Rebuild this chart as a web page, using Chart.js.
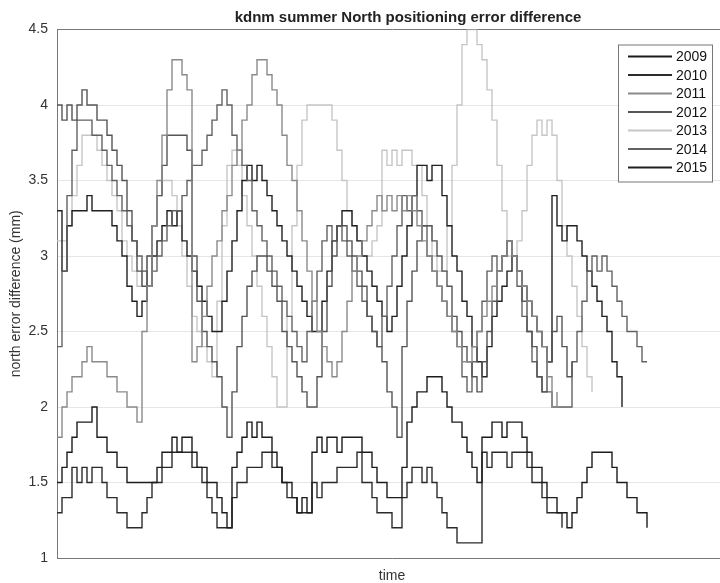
<!DOCTYPE html>
<html>
<head>
<meta charset="utf-8">
<script src="https://cdn.jsdelivr.net/npm/chart.js@4.4.1/dist/chart.umd.min.js"></script>
<style>
  html, body { margin: 0; padding: 0; background: #fff; overflow: hidden; }
  #wrap { position: relative; width: 732px; height: 583px; }
</style>
</head>
<body>
<div id="wrap"><canvas id="chart"></canvas></div>
<script>
const years = ['2009', '2010', '2011', '2012', '2013', '2014', '2015'];
const lineColors = ['#1c1c1c', '#2b2b2b', '#8a8a8a', '#555555', '#c6c6c6', '#626262', '#202020'];
const yTicks = [1, 1.5, 2, 2.5, 3, 3.5, 4, 4.5];

// one value per time step
const year2009 = [
    1.5, 1.6, 1.7, 1.8, 1.9, 1.9, 1.9, 2.0, 1.8, 1.8,
    1.7, 1.7, 1.6, 1.6, 1.5, 1.5, 1.5, 1.5, 1.5, 1.5,
    1.6, 1.7, 1.7, 1.8, 1.7, 1.8, 1.8, 1.7, 1.6, 1.6,
    1.5, 1.5, 1.4, 1.3, 1.2, 1.6, 1.7, 1.8, 1.9, 1.8,
    1.9, 1.8, 1.8, 1.7, 1.6, 1.5, 1.5, 1.4, 1.3, 1.4,
    1.3, 1.7, 1.8, 1.7, 1.8, 1.8, 1.7, 1.8, 1.8, 1.8,
    1.8, 1.7, 1.7, 1.6, 1.5, 1.5, 1.4, 1.4, 1.4, 1.6,
    1.9, 2.0, 2.1, 2.1, 2.2, 2.2, 2.2, 2.1, 2.0, 1.9,
    1.9, 1.8, 1.7, 1.6, 1.5, 1.8, 1.8, 1.9, 1.9, 1.8,
    1.9, 1.9, 1.9, 1.8, 1.7, 1.6, 1.6, 1.5, 1.4, 1.4,
    1.3, 1.3, 1.2, 1.3, 1.4, 1.5, 1.6, 1.7, 1.7, 1.7,
    1.7, 1.6, 1.5, 1.5, 1.4, 1.4, 1.3, 1.3, 1.2
];
const year2010 = [
    1.3, 1.4, 1.4, 1.6, 1.5, 1.6, 1.5, 1.6, 1.6, 1.5,
    1.4, 1.4, 1.3, 1.3, 1.2, 1.2, 1.2, 1.3, 1.4, 1.5,
    1.5, 1.6, 1.6, 1.7, 1.7, 1.7, 1.7, 1.6, 1.6, 1.5,
    1.4, 1.3, 1.2, 1.2, 1.2, 1.4, 1.5, 1.5, 1.6, 1.6,
    1.6, 1.7, 1.7, 1.6, 1.6, 1.5, 1.4, 1.4, 1.3, 1.3,
    1.3, 1.5, 1.4, 1.5, 1.5, 1.5, 1.6, 1.6, 1.6, 1.6,
    1.7, 1.5, 1.5, 1.4, 1.3, 1.3, 1.3, 1.2, 1.2, 1.4,
    1.5, 1.6, 1.6, 1.5, 1.6, 1.5, 1.4, 1.3, 1.2, 1.2,
    1.1, 1.1, 1.1, 1.1, 1.1, 1.7, 1.6, 1.7, 1.7, 1.7,
    1.6, 1.7, 1.7, 1.7, 1.6, 1.5, 1.5, 1.4, 1.3, 1.3,
    1.3, 1.2
];
const year2011 = [
    1.8, 2.0, 2.1, 2.2, 2.2, 2.3, 2.4, 2.3, 2.3, 2.3,
    2.2, 2.2, 2.1, 2.1, 2.0, 2.0, 1.9, 2.5, 2.8, 3.2,
    3.5, 3.8, 4.1, 4.3, 4.3, 4.2, 4.1, 2.3, 2.4, 2.6,
    2.8, 3.0, 3.1, 3.3, 3.4, 3.6, 3.7, 3.9, 4.0, 4.2,
    4.3, 4.3, 4.2, 4.1, 4.0, 3.8, 3.6, 3.5, 3.3, 3.1,
    2.9, 2.7, 2.5, 2.4, 2.3, 2.2, 2.3, 2.5, 2.7, 2.9,
    3.0, 3.1, 3.2, 3.3, 3.4, 3.3, 3.4, 3.3, 3.4, 3.3,
    3.4, 3.3, 3.2, 3.1, 3.0, 2.9, 2.8, 2.7, 2.6, 2.5,
    2.4, 2.3, 2.3, 2.4, 2.5, 2.6, 2.7, 2.8, 2.9, 3.0,
    3.1, 3.0, 2.9, 2.8, 2.7, 2.6, 2.5, 2.4, 2.2, 2.0,
    2.1
];
const year2012 = [
    4.0, 3.9, 4.0, 3.9, 4.0, 4.1, 4.0, 4.0, 3.9, 3.9,
    3.8, 3.7, 3.6, 3.5, 3.3, 3.1, 2.9, 2.8, 3.0, 3.2,
    3.4, 3.6, 3.8, 3.8, 3.8, 3.8, 3.7, 3.0, 2.7, 2.5,
    2.4, 2.3, 2.2, 2.0, 1.8, 2.1, 2.4, 2.6, 2.8, 2.9,
    3.0, 3.0, 2.9, 2.8, 2.7, 2.5, 2.4, 2.3, 2.2, 2.1,
    2.0, 2.0, 2.2, 2.5, 2.8, 3.0, 3.2, 3.2, 3.1, 3.0,
    2.9, 2.8, 2.6, 2.5, 2.4, 2.3, 2.1, 2.0, 1.8, 2.4,
    2.7, 2.9, 3.1, 3.2, 3.2, 3.1, 3.0, 2.9, 2.8, 2.6,
    2.5, 2.4, 2.3, 2.2, 2.1, 2.3, 2.5, 2.7, 2.9, 3.0,
    3.1, 3.0, 2.9, 2.7, 2.5, 2.4, 2.2, 2.1, 2.3, 2.5,
    2.6, 2.4, 2.2, 2.3
];
const year2013 = [
    3.1, 3.1, 3.2, 3.4, 3.6, 3.8, 3.8, 3.8, 3.7, 3.6,
    3.5, 3.4, 3.3, 3.1, 3.0, 2.9, 2.8, 2.9, 3.0, 3.2,
    3.4, 3.5, 3.5, 3.4, 3.2, 3.0, 2.8, 2.6, 2.5, 2.4,
    2.3, 2.2, 2.7, 3.2, 3.6, 3.7, 3.6, 3.4, 3.2, 3.0,
    2.8, 2.6, 2.4, 2.2, 2.0, 2.0, 2.6, 3.2, 3.6, 3.9,
    4.0, 4.0, 4.0, 4.0, 4.0, 3.9, 3.7, 3.5, 3.3, 3.2,
    3.1, 3.0, 3.0, 3.1, 3.2, 3.7, 3.6, 3.7, 3.6, 3.7,
    3.7, 3.6, 3.6, 3.4, 3.2, 3.0, 2.9, 2.9, 3.2, 3.6,
    4.0, 4.4, 4.5, 4.5, 4.4, 4.3, 4.1, 3.9, 3.6, 3.3,
    3.0, 3.0, 3.1, 3.3, 3.6, 3.8, 3.9, 3.8, 3.9, 3.8,
    3.5, 3.2, 3.0, 2.8, 2.6, 2.4, 2.2, 2.1
];
const year2014 = [
    2.4, 2.9, 3.4, 3.7, 3.9, 3.9, 3.9, 3.8, 3.8, 3.7,
    3.6, 3.5, 3.4, 3.3, 3.2, 3.1, 3.0, 2.9, 2.8, 2.9,
    3.0, 3.1, 3.2, 3.3, 3.3, 3.4, 3.5, 3.6, 3.6, 3.7,
    3.8, 3.9, 4.0, 4.1, 4.0, 3.8, 3.7, 3.6, 3.5, 3.3,
    3.2, 3.1, 3.0, 2.9, 2.8, 2.7, 2.6, 2.5, 2.4, 2.3,
    2.5, 2.7, 2.9, 3.1, 3.2, 3.1, 3.2, 3.1, 3.0, 2.9,
    2.8, 2.7, 2.6, 2.5, 2.4, 2.6, 2.8, 3.0, 3.2, 3.4,
    3.3, 3.4, 3.3, 3.2, 3.0, 2.9, 2.8, 2.7, 2.6, 2.5,
    2.4, 2.2, 2.1, 2.3, 2.5, 2.7, 2.9, 3.0, 2.9, 3.0,
    3.1, 3.0, 2.8, 2.6, 2.5, 2.3, 2.2, 2.1, 2.1, 2.0,
    2.0, 2.0, 2.0, 2.3, 2.5, 2.7, 2.9, 3.0, 2.9, 3.0,
    2.9, 2.8, 2.7, 2.6, 2.5, 2.5, 2.4, 2.3, 2.3
];
const year2015 = [
    3.3, 2.9, 3.2, 3.3, 3.3, 3.3, 3.4, 3.3, 3.3, 3.3,
    3.3, 3.2, 3.1, 3.0, 2.8, 2.7, 2.6, 2.7, 2.8, 3.0,
    3.1, 3.2, 3.3, 3.2, 3.3, 3.1, 3.0, 2.9, 2.8, 2.7,
    2.6, 2.5, 2.5, 2.7, 2.9, 3.1, 3.3, 3.5, 3.6, 3.5,
    3.6, 3.5, 3.4, 3.3, 3.2, 3.1, 3.0, 2.9, 2.8, 2.7,
    2.6, 2.5, 2.5, 2.7, 2.9, 3.1, 3.2, 3.3, 3.3, 3.2,
    3.1, 3.0, 2.9, 2.8, 2.7, 2.6, 2.5, 2.6, 2.8, 3.0,
    3.2, 3.4, 3.6, 3.6, 3.5, 3.6, 3.6, 3.4, 3.2, 3.0,
    2.9, 2.7, 2.6, 2.4, 2.3, 2.2, 2.4, 2.6, 2.7, 2.8,
    2.9, 3.0, 2.9, 2.8, 2.7, 2.6, 2.5, 2.4, 2.3, 3.4,
    3.2, 3.1, 3.2, 3.2, 3.1, 3.0, 2.9, 2.8, 2.7, 2.6,
    2.5, 2.3, 2.2, 2.0
];

const seriesValues = [year2009, year2010, year2011, year2012, year2013, year2014, year2015];
const FONT = '"Liberation Sans", Arial, Helvetica, sans-serif';

const datasets = years.map((year, k) => ({
    label: year,
    data: seriesValues[k].map((v, i) => ({ x: i, y: v })),
    borderColor: lineColors[k],
    borderWidth: 1.4,
    pointRadius: 0,
    stepped: true,
    fill: false,
    order: year === '2013' ? 1 : 0
}));

// boxed legend in the upper right, MATLAB style
const boxLegend = {
    id: 'boxLegend',
    afterLayout(chart) {
        // the original title sits a little right of the axes centre
        const t = chart.titleBlock;
        if (t) {
            t.left += 16;
            t.right += 16;
        }
    },
    afterDraw(chart) {
        const ctx = chart.ctx;
        const area = chart.chartArea;
        const w = 94, h = 137;
        const left = area.right - 15 - w;
        const top = area.top + 15;
        ctx.save();
        ctx.fillStyle = '#fff';
        ctx.fillRect(left, top, w, h);
        ctx.strokeStyle = '#777';
        ctx.lineWidth = 1;
        ctx.strokeRect(left + 0.5, top + 0.5, w, h);
        ctx.font = '14px ' + FONT;
        ctx.textBaseline = 'middle';
        chart.data.datasets.forEach((ds, k) => {
            const y = top + 12 + k * 18.5;
            ctx.strokeStyle = ds.borderColor;
            ctx.lineWidth = 2;
            ctx.beginPath();
            ctx.moveTo(left + 10, y);
            ctx.lineTo(left + 54, y);
            ctx.stroke();
            ctx.fillStyle = '#111';
            ctx.fillText(ds.label, left + 58, y + 1);
        });
        ctx.restore();
    }
};

new Chart(document.getElementById('chart'), {
    type: 'line',
    data: { datasets: datasets },
    plugins: [boxLegend],
    options: {
        responsive: true,
        maintainAspectRatio: false,
        animation: false,
        layout: { padding: { left: 8, right: 5, top: 0, bottom: 0 } },
        plugins: {
            legend: { display: false },
            tooltip: { enabled: false },
            title: {
                display: true,
                text: 'kdnm summer North positioning error difference',
                fullSize: false,
                color: '#222',
                font: { family: FONT, size: 15, weight: 'bold', lineHeight: 1.1 },
                padding: { top: 10, bottom: 3 }
            }
        },
        scales: {
            x: {
                type: 'linear',
                min: 0,
                max: 134,
                grid: { display: false, drawTicks: false },
                ticks: { display: false },
                border: { display: true, color: '#777', width: 1 },
                title: {
                    display: true,
                    text: 'time',
                    color: '#333',
                    font: { family: FONT, size: 14, lineHeight: 1 },
                    padding: { top: 11, bottom: 0 }
                }
            },
            y: {
                min: 1,
                max: 4.5,
                afterBuildTicks: scale => {
                    scale.ticks = yTicks.map(v => ({ value: v }));
                },
                afterFit: scale => {
                    scale.width = 49;
                },
                ticks: {
                    color: '#333',
                    padding: 9,
                    font: { family: FONT, size: 14 },
                    callback: v => String(v)
                },
                grid: {
                    drawTicks: false,
                    color: ctx => (ctx.tick && ctx.tick.value === 4.5) ? '#777' : '#e6e6e6'
                },
                border: { color: '#777', width: 1 },
                title: {
                    display: true,
                    text: 'north error difference (mm)',
                    color: '#333',
                    font: { family: FONT, size: 14 },
                    padding: { top: 0, bottom: 4 }
                }
            }
        }
    }
});
</script>
</body>
</html>
